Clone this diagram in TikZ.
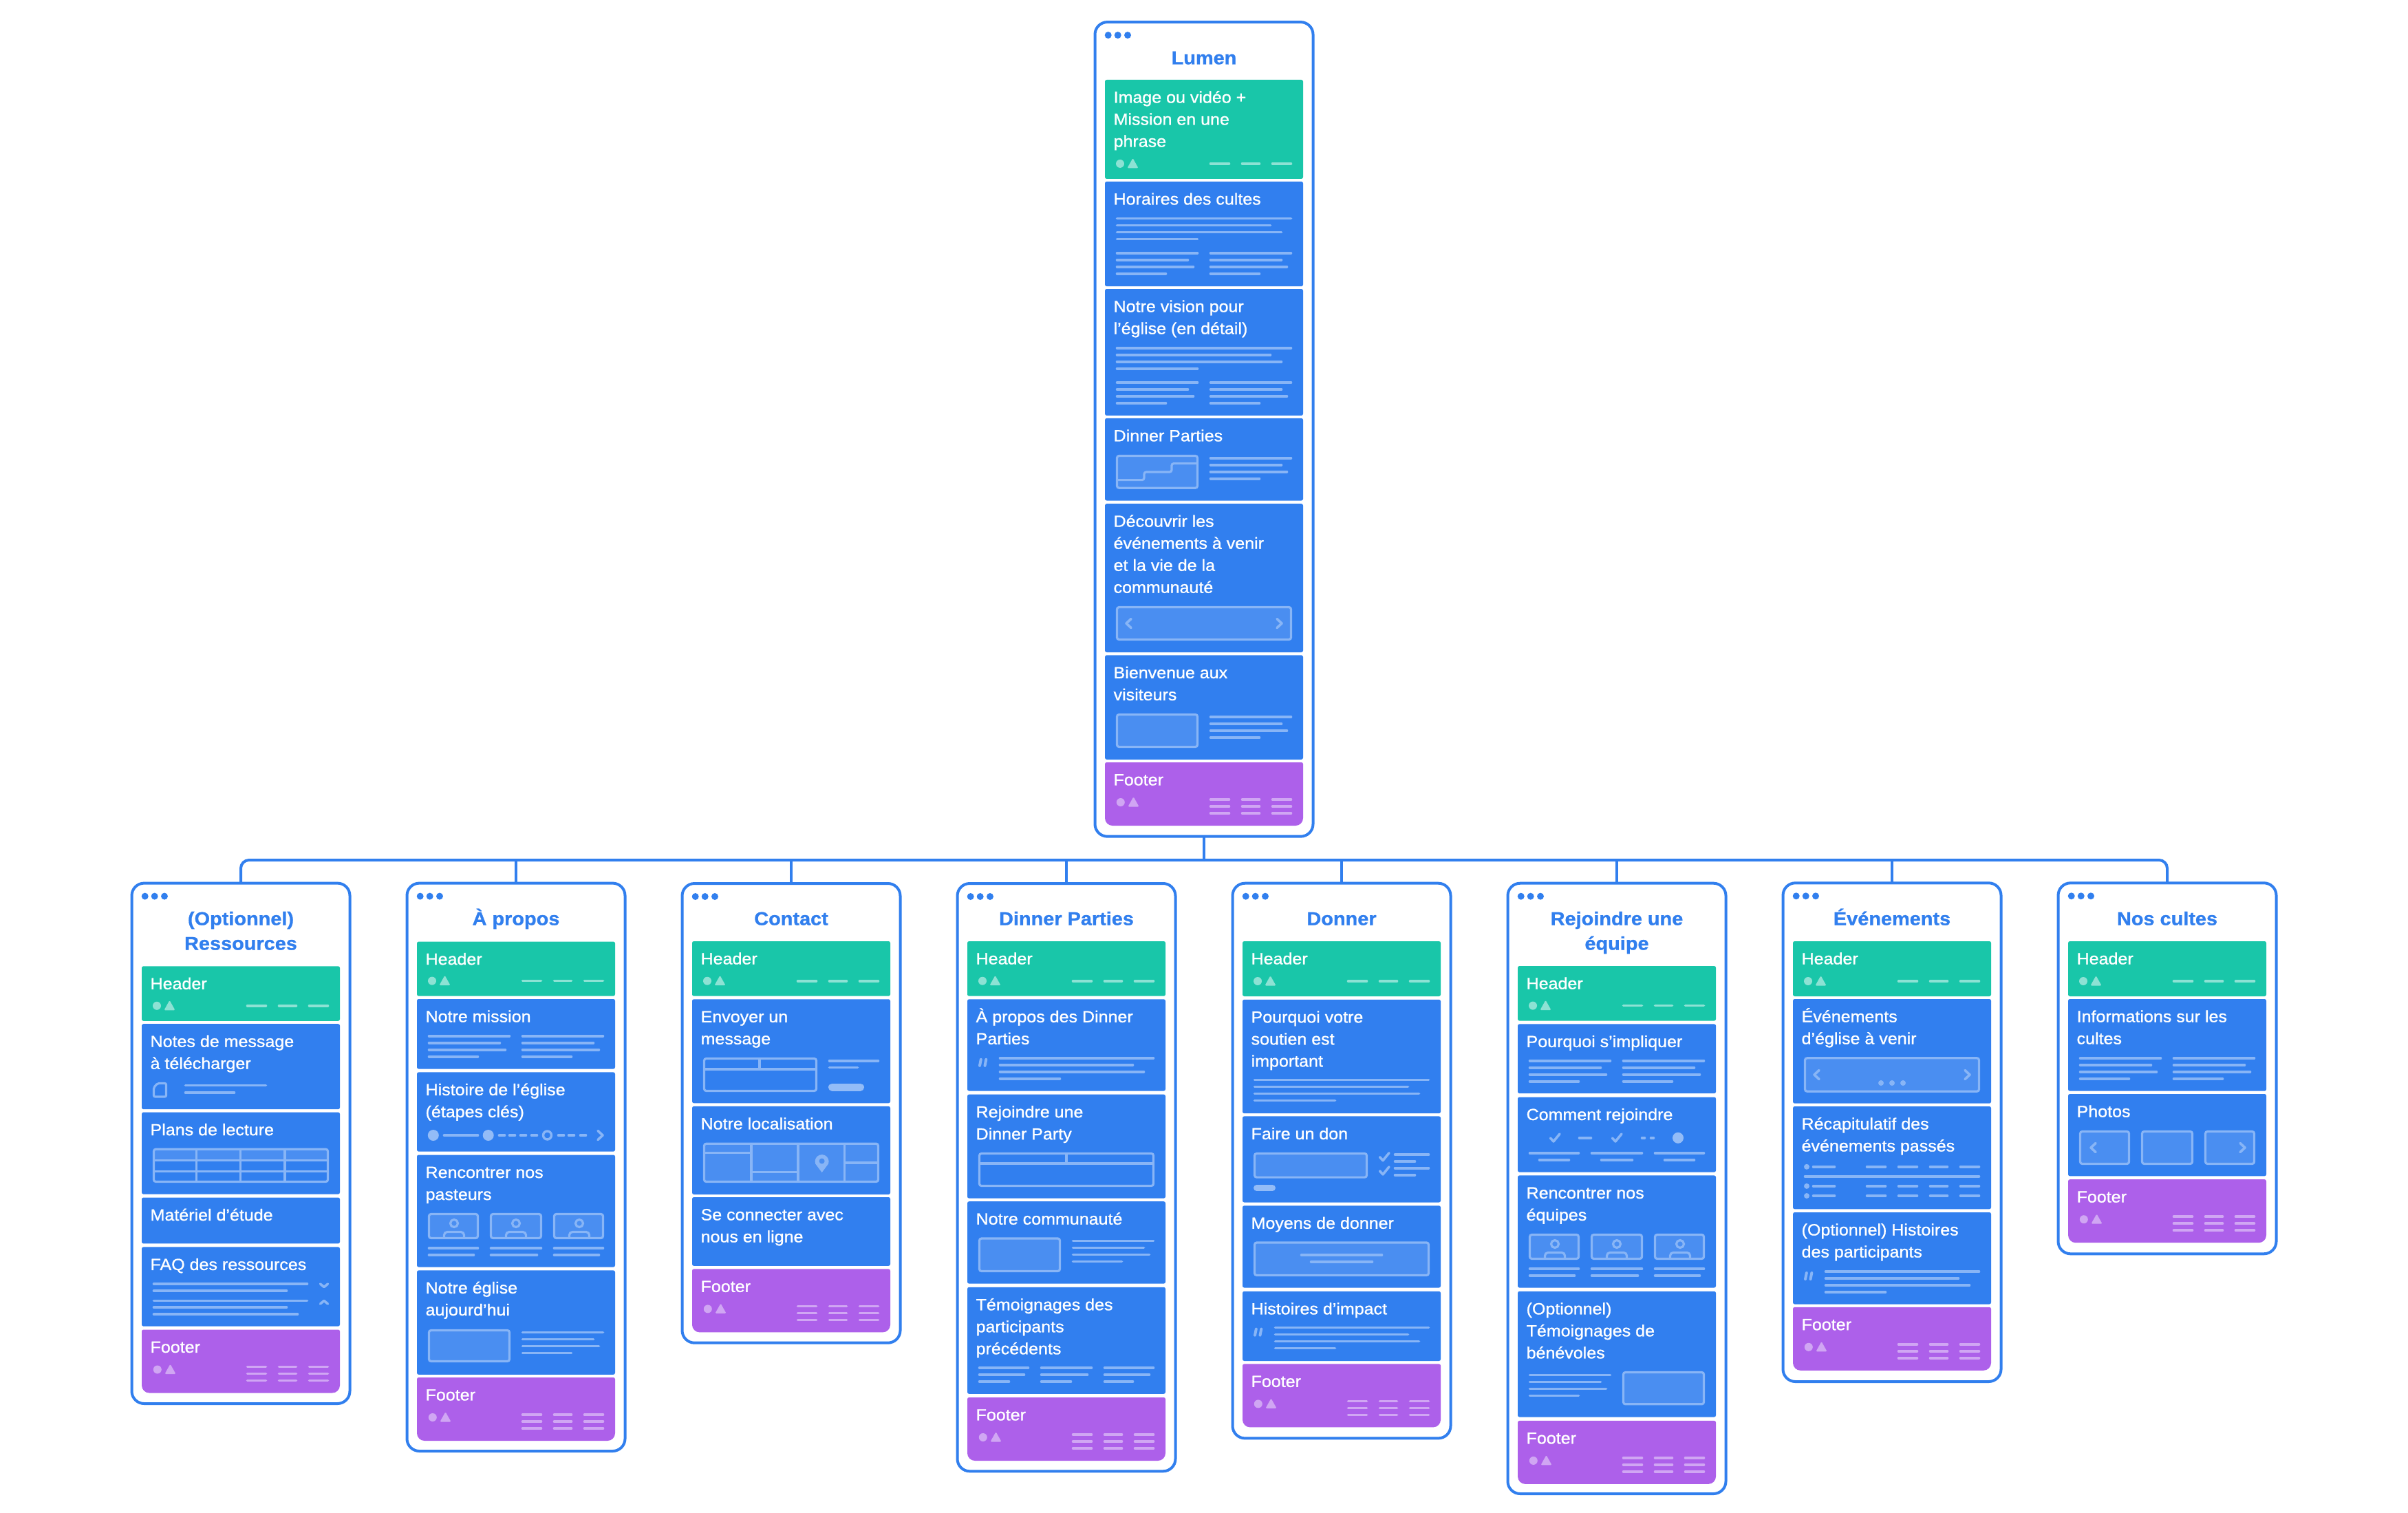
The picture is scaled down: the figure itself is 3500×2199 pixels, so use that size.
\documentclass[tikz,border=0pt]{standalone}
\usepackage{fontspec}
\setmainfont[FakeStretch=1.065,FakeBold=1.0]{Liberation Sans}
\newfontfamily\titlef[FakeStretch=1.07,FakeBold=1.0]{Liberation Sans}
\definecolor{frameB}{HTML}{317FEE}
\definecolor{secB}{HTML}{317FEF}
\definecolor{midB}{HTML}{4A8EF1}
\definecolor{ltB}{HTML}{88B5F6}
\definecolor{btnB}{HTML}{93BCF7}
\definecolor{secG}{HTML}{19C6A9}
\definecolor{ltG}{HTML}{8DE2D4}
\definecolor{secP}{HTML}{AD60EA}
\definecolor{ltP}{HTML}{D0A6F3}
\tikzset{
  secshape/.style={rectangle,anchor=north west,minimum width=288pt,inner sep=0pt,outer sep=0pt,rounded corners=2.5pt},
  seclabel/.style={anchor=north west,inner sep=0pt,outer sep=0pt,align=left,text=white,font={\normalfont\fontsize{23.5pt}{32pt}\selectfont}},
  titlelabel/.style={anchor=north,inner sep=0pt,outer sep=0pt,align=center,text=frameB,font={\titlef\bfseries\fontsize{27pt}{36pt}\selectfont}},
  framebox/.style={rectangle,anchor=north,draw=frameB,line width=4pt,fill=white,minimum width=317pt,inner sep=0pt,outer sep=0pt,rounded corners=18pt},
  conn/.style={draw=frameB,line width=4pt},
  hline/.style={line width=3.6pt,line cap=round},
  boxs/.style={draw=ltB,fill=midB,line width=3.2pt,rounded corners=3pt},
  boxo/.style={draw=ltB,line width=3.2pt,rounded corners=3pt},
  divl/.style={draw=ltB,line width=3.2pt},
  chev/.style={draw=ltB,line width=3.6pt,line cap=round,line join=round}
}
\newcommand\setframe[1]{\pgfmathsetmacro\SL{#1-144}}
\newcommand\hl[4][ltB]{\draw[hline,draw=#1] (\SL+#2+1.5,#4) -- (\SL+#3-1.5,#4);}
\newcommand\pageframe[4]{% name, cx, top, bottom
  \node[framebox,minimum height={(#4-#3)*1pt}] (#1) at (#2,#3) {};
  \setframe{#2}
  \foreach \dx in {4.7,18.7,33} {\fill[frameB] (\SL+\dx,#3+19) circle[radius=5pt];}
}
\newcommand\ftitle[4]{% name, cx, first baseline, text
  \node[titlelabel] (#1) at (#2,#3-28) {\rule{0pt}{28pt}#4};
}
\newcommand\sectbox[5]{% name, fill, top, bottom, text
  \node[secshape,fill=#2,minimum height={(#4-#3)*1pt}] (#1) at (\SL,#3) {};
  \node[seclabel] (#1t) at (\SL+12.6,#3+9.5) {\rule{0pt}{24pt}#5};
}
\newcommand\hdrsec[4]{% name, top, bottom, text
  \sectbox{#1}{secG}{#2}{#3}{#4}
  \fill[ltG] (\SL+22,#3-22) circle[radius=6pt];
  \fill[ltG,rounded corners=1.5pt] (\SL+32.4,#3-15.5) -- (\SL+40.5,#3-30) -- (\SL+48.6,#3-15.5) -- cycle;
  \hl[ltG]{152}{182}{#3-22}\hl[ltG]{198}{226}{#3-22}\hl[ltG]{242}{272}{#3-22}
}
\newcommand\ftrsec[2]{% name, top
  \fill[secP] [rounded corners=2.5pt] (\SL,#2+20) -- (\SL,#2) -- (\SL+288,#2) -- (\SL+288,#2+20) [rounded corners=11pt] -- (\SL+288,#2+92) -- (\SL,#2+92) -- cycle;
  \node[seclabel] (#1) at (\SL+12.6,#2+9.4) {\rule{0pt}{24pt}Footer};
  \fill[ltP] (\SL+22.8,#2+58) circle[radius=6pt];
  \fill[ltP,rounded corners=1.5pt] (\SL+33.4,#2+64.5) -- (\SL+41.5,#2+50) -- (\SL+49.6,#2+64.5) -- cycle;
  \foreach \dy in {54,64,74} {\hl[ltP]{152}{182}{#2+\dy}\hl[ltP]{198}{226}{#2+\dy}\hl[ltP]{242}{272}{#2+\dy}}
}
\newcommand\colblock[2]{% x, y : four lines, 120 wide
  \hl{#1}{#1+120}{#2}\hl{#1}{#1+106}{#2+10}\hl{#1}{#1+114}{#2+20}\hl{#1}{#1+74}{#2+30}
}
\newcommand\fullblock[1]{%
  \hl{16}{272}{#1}\hl{16}{242}{#1+10}\hl{16}{258}{#1+20}\hl{16}{136}{#1+30}
}
\newcommand\quoteblock[1]{%
  \hl{46}{272}{#1}\hl{46}{242}{#1+10}\hl{46}{258}{#1+20}\hl{46}{136}{#1+30}
  \draw[chev,line width=4pt] (\SL+18,#1+11) -- (\SL+19.8,#1+2);
  \draw[chev,line width=4pt] (\SL+25.5,#1+11) -- (\SL+27.3,#1+2);
}
\newcommand\boxf[4]{\draw[boxs] (\SL+#1+1.5,#3+1.5) rectangle (\SL+#2-1.5,#4-1.5);}
\newcommand\boxe[4]{\draw[boxo] (\SL+#1+1.5,#3+1.5) rectangle (\SL+#2-1.5,#4-1.5);}
\newcommand\chevL[3]{\draw[chev] (\SL+#1+7,#2-#3) -- (\SL+#1,#2) -- (\SL+#1+7,#2+#3);}
\newcommand\chevR[3]{\draw[chev] (\SL+#1-7,#2-#3) -- (\SL+#1,#2) -- (\SL+#1-7,#2+#3);}
\newcommand\chk[2]{\draw[chev] (\SL+#1-6.5,#2) -- (\SL+#1-2,#2+5) -- (\SL+#1+7,#2-6);}
\newcommand\person[3]{% cx, card top, card bottom
  \draw[divl] (\SL+#1,#2+15) circle[radius=5.5pt];
  \draw[divl,rounded corners=4.5pt] (\SL+#1-14.5,#3-2) -- (\SL+#1-14.5,#3-10.5) -- (\SL+#1+14.5,#3-10.5) -- (\SL+#1+14.5,#3-2);
}
\newcommand\cards[2]{% top bottom: three person cards
  \boxf{16}{90}{#1}{#2}\boxf{106}{182}{#1}{#2}\boxf{198}{272}{#1}{#2}
  \person{54}{#1}{#2}\person{144}{#1}{#2}\person{236}{#1}{#2}
}
\begin{document}
\begin{tikzpicture}[x=1pt,y=-1pt]
\useasboundingbox (0,0) rectangle (3500,2199);
\fill[white] (0,0) rectangle (3500,2199);
% page frames first, connectors after
\coordinate (bus) at (1750,1250);
% ---------- ROOT ----------
\pageframe{root}{1750}{32.1}{1215.7}
\ftitle{roottitle}{1750}{93.4}{Lumen}
\hdrsec{ra}{116}{259.9}{Image ou vidéo +\\Mission en une\\phrase}
\sectbox{rb}{secB}{263.9}{416.1}{Horaires des cultes}
\fullblock{317.6}\colblock{16}{367.8}\colblock{152}{367.8}
\sectbox{rc}{secB}{420}{603.9}{Notre vision pour\\l’église (en détail)}
\fullblock{505.8}\colblock{16}{556}\colblock{152}{556}
\sectbox{rd}{secB}{607.9}{727.5}{Dinner Parties}
\boxf{16}{136}{661}{710.7}
\draw[divl,rounded corners=3pt] (\SL+17,697.6) -- (\SL+57,697.6) -- (\SL+57,686) -- (\SL+97,686) -- (\SL+97,673.6) -- (\SL+135,673.6);
\colblock{152}{665.7}
\sectbox{re}{secB}{732.2}{948}{Découvrir les\\événements à venir\\et la vie de la\\communauté}
\boxf{16}{272}{881}{931}\chevL{31}{906}{6.5}\chevR{257}{906}{6.5}
\sectbox{rf}{secB}{952.3}{1103.8}{Bienvenue aux\\visiteurs}
\boxf{16}{136}{1037}{1087}\colblock{152}{1042}
\ftrsec{rg}{1108}
% ---------- RESSOURCES ----------
\pageframe{pa}{350}{1283.6}{2040}
\ftitle{patitle}{350}{1344.5}{(Optionnel)\\Ressources}
\hdrsec{aa}{1404.3}{1483.8}{Header}
\sectbox{ab}{secB}{1488.2}{1612.2}{Notes de message\\à télécharger}
\draw[divl,rounded corners=2pt] (\SL+23,1574.5) -- (\SL+35.5,1574.5) -- (\SL+35.5,1594) -- (\SL+17.5,1594) -- (\SL+17.5,1580.5) -- cycle;
\hl{62}{182}{1577.6}\hl{62}{136}{1588}
\sectbox{ac}{secB}{1616.6}{1735.6}{Plans de lecture}
\fill[midB] (\SL+18,1670) rectangle (\SL+270,1686);
\boxe{16}{272}{1668.7}{1719}
\foreach \vx in {79.5,143.5,208} {\draw[divl] (\SL+\vx,1669) -- (\SL+\vx,1718);}
\draw[divl] (\SL+17,1686.2) -- (\SL+271,1686.2);
\draw[divl] (\SL+17,1702.7) -- (\SL+271,1702.7);
\sectbox{ad}{secB}{1740.5}{1807.4}{Matériel d’étude}
\sectbox{ae}{secB}{1812.4}{1927.6}{FAQ des ressources}
\hl{16}{242}{1866}\hl{16}{212}{1876}\hl{16}{242}{1890.3}\hl{16}{212}{1900}\hl{16}{228}{1910}
\draw[chev] (\SL+259.5,1866) -- (\SL+265,1870.5) -- (\SL+270.5,1866);
\draw[chev] (\SL+259.5,1895) -- (\SL+265,1890.5) -- (\SL+270.5,1895);
\ftrsec{af}{1932.5}
% ---------- A PROPOS ----------
\pageframe{pb}{750}{1283.6}{2109}
\ftitle{pbtitle}{750}{1344.5}{À propos}
\hdrsec{ba}{1368.6}{1447.6}{Header}
\sectbox{bb}{secB}{1452}{1553.5}{Notre mission}
\colblock{16}{1505.7}\colblock{152}{1505.7}
\sectbox{bc}{secB}{1558.4}{1673.6}{Histoire de l’église\\(étapes clés)}
\fill[btnB] (\SL+23.8,1650) circle[radius=8pt];
\fill[btnB] (\SL+103.7,1650) circle[radius=8pt];
\hl{38}{90}{1650}
\hl{118}{129}{1650}\hl{133}{144}{1650}\hl{149}{160}{1650}\hl{165}{176}{1650}
\draw[divl,line width=3.4pt] (\SL+189.5,1650) circle[radius=6pt];
\hl{204}{215}{1650}\hl{219}{230}{1650}\hl{236}{247}{1650}
\chevR{270}{1650}{6.5}
\sectbox{bd}{secB}{1678.5}{1841.5}{Rencontrer nos\\pasteurs}
\cards{1763}{1801}
\hl{16}{90}{1814}\hl{16}{84}{1824}\hl{106}{182}{1814}\hl{106}{176}{1824}\hl{198}{272}{1814}\hl{198}{266}{1824}
\sectbox{be}{secB}{1846.4}{1997.8}{Notre église\\aujourd’hui}
\boxf{16}{136}{1932}{1980}\colblock{152}{1936.4}
\ftrsec{bf}{2002}
% ---------- CONTACT ----------
\pageframe{pc}{1150}{1284}{1951.7}
\ftitle{pctitle}{1150}{1344.5}{Contact}
\hdrsec{ca}{1368}{1447.7}{Header}
\sectbox{cb}{secB}{1452.3}{1603.3}{Envoyer un\\message}
\boxe{16}{182}{1537}{1587}
\draw[divl] (\SL+17,1554) -- (\SL+181,1554);
\draw[divl] (\SL+98,1538) -- (\SL+98,1554);
\hl{198}{272}{1541.9}\hl{198}{242}{1551.6}
\draw[line width=11pt,line cap=round,draw=btnB] (\SL+203.5,1580) -- (\SL+244.5,1580);
\sectbox{cc}{secB}{1607.9}{1736}{Notre localisation}
\boxf{16}{272}{1660.7}{1719}
\foreach \vx in {86,154,221.5} {\draw[divl] (\SL+\vx,1661) -- (\SL+\vx,1718);}
\draw[divl] (\SL+17,1675.6) -- (\SL+86,1675.6);
\draw[divl] (\SL+86,1703.2) -- (\SL+154,1703.2);
\draw[divl] (\SL+221.5,1690) -- (\SL+271,1690);
\fill[ltB] (\SL+188.6,1704) -- (\SL+179.2,1691.5) arc[start angle=200,end angle=-20,radius=10pt] -- cycle;
\fill[midB] (\SL+188.6,1687.5) circle[radius=4pt];
\sectbox{cd}{secB}{1740}{1839.8}{Se connecter avec\\nous en ligne}
\ftrsec{ce}{1844.4}
% ---------- DINNER PARTIES ----------
\pageframe{pd}{1550}{1284}{2138.3}
\ftitle{pdtitle}{1550}{1344.5}{Dinner Parties}
\hdrsec{da}{1368}{1447.7}{Header}
\sectbox{db}{secB}{1452.3}{1585.5}{À propos des Dinner\\Parties}
\quoteblock{1537.8}
\sectbox{dc}{secB}{1590.7}{1741.6}{Rejoindre une\\Dinner Party}
\boxe{16}{272}{1675}{1725}
\draw[divl] (\SL+17,1691) -- (\SL+271,1691);
\draw[divl] (\SL+144,1676) -- (\SL+144,1691);
\sectbox{dd}{secB}{1746.2}{1865.6}{Notre communauté}
\boxf{16}{136}{1798.5}{1849}\colblock{152}{1803.6}
\sectbox{de}{secB}{1870.8}{2025.8}{Témoignages des\\participants\\précédents}
\hl{16}{90}{1988}\hl{16}{84}{1998}\hl{16}{62}{2008}
\hl{106}{182}{1988}\hl{106}{176}{1998}\hl{106}{152}{2008}
\hl{198}{272}{1988}\hl{198}{266}{1998}\hl{198}{242}{2008}
\ftrsec{df}{2031}
% ---------- DONNER ----------
\pageframe{pe}{1950}{1283.7}{2090.4}
\ftitle{petitle}{1950}{1344.5}{Donner}
\hdrsec{ea}{1368}{1448}{Header}
\sectbox{eb}{secB}{1452.8}{1618.2}{Pourquoi votre\\soutien est\\important}
\fullblock{1569.6}
\sectbox{ec}{secB}{1622.4}{1747.5}{Faire un don}
\boxf{16}{182}{1675}{1712.6}
\draw[line width=9pt,line cap=round,draw=btnB] (\SL+20.5,1726.8) -- (\SL+43.5,1726.8);
\chk{206}{1681.7}\chk{206}{1701.9}
\hl{220}{272}{1678}\hl{220}{252}{1688}\hl{220}{272}{1697.7}\hl{220}{252}{1707.8}
\sectbox{ed}{secB}{1752.3}{1871.5}{Moyens de donner}
\boxf{16}{272}{1804.5}{1855}
\hl{84}{204}{1824}\hl{98}{190}{1834}
\sectbox{ee}{secB}{1876.8}{1978}{Histoires d’impact}
\quoteblock{1929.6}
\ftrsec{ef}{1982.4}
% ---------- REJOINDRE ----------
\pageframe{pf}{2350}{1283.7}{2171}
\ftitle{pftitle}{2350}{1344.5}{Rejoindre une\\équipe}
\hdrsec{fa}{1404}{1483.6}{Header}
\sectbox{fb}{secB}{1488.4}{1589.2}{Pourquoi s’impliquer}
\colblock{16}{1541.7}\colblock{152}{1541.7}
\sectbox{fc}{secB}{1594.5}{1703.6}{Comment rejoindre}
\chk{54}{1654}\hl{88}{108}{1653.8}\chk{144}{1654}\hl{179}{186}{1653.8}\hl{192}{199}{1653.8}
\fill[btnB] (\SL+233,1653.8) circle[radius=8pt];
\hl{16}{90}{1675.8}\hl{30}{76}{1685.9}\hl{106}{182}{1675.8}\hl{120}{168}{1685.9}\hl{198}{272}{1675.8}\hl{212}{258}{1685.9}
\sectbox{fd}{secB}{1708.4}{1871.5}{Rencontrer nos\\équipes}
\cards{1793}{1831}
\hl{16}{90}{1844}\hl{16}{84}{1854}\hl{106}{182}{1844}\hl{106}{176}{1854}\hl{198}{272}{1844}\hl{198}{266}{1854}
\sectbox{fe}{secB}{1876.8}{2059.5}{(Optionnel)\\Témoignages de\\bénévoles}
\colblock{16}{1998.4}\boxf{152}{272}{1993}{2042.3}
\ftrsec{ff}{2064.9}
% ---------- EVENEMENTS ----------
\pageframe{pg}{2750}{1283.3}{2008}
\ftitle{pgtitle}{2750}{1344.5}{Événements}
\hdrsec{ga}{1368}{1448}{Header}
\sectbox{gb}{secB}{1452}{1603.7}{Événements\\d’église à venir}
\boxf{16}{272}{1536.3}{1587.7}\chevL{31}{1562}{6.5}\chevR{257}{1562}{6.5}
\foreach \vx in {128,144,160} {\fill[ltB] (\SL+\vx,1574) circle[radius=4pt];}
\sectbox{gc}{secB}{1608}{1757.3}{Récapitulatif des\\événements passés}
\foreach \ry in {1695.8,1723.9,1738} {
  \fill[ltB] (\SL+20,\ry) circle[radius=4pt];
  \hl{28}{62}{\ry}\hl{106}{136}{\ry}\hl{152}{182}{\ry}\hl{198}{226}{\ry}\hl{242}{272}{\ry}
}
\hl{16}{272}{1709.8}
\sectbox{gd}{secB}{1762}{1895.5}{(Optionnel) Histoires\\des participants}
\quoteblock{1848}
\ftrsec{gf}{1899.8}
% ---------- NOS CULTES ----------
\pageframe{ph}{3150}{1283.3}{1822.3}
\ftitle{phtitle}{3150}{1344.5}{Nos cultes}
\hdrsec{ha}{1368}{1448}{Header}
\sectbox{hb}{secB}{1452}{1585.7}{Informations sur les\\cultes}
\colblock{16}{1538}\colblock{152}{1538}
\sectbox{hc}{secB}{1590}{1709.3}{Photos}
\boxf{16}{90}{1643}{1693}\boxf{106}{182}{1643}{1693}\boxf{198}{272}{1643}{1693}
\chevL{33}{1668}{6.5}\chevR{257}{1668}{6.5}
\ftrsec{hf}{1714.2}
% ---------- CONNECTORS ----------
\draw[conn] (root.south) -- (bus);
\draw[conn,rounded corners=12pt] (bus) -| (pa.north);
\draw[conn,rounded corners=12pt] (bus) -| (ph.north);
\draw[conn] (bus) -| (pb.north);
\draw[conn] (bus) -| (pc.north);
\draw[conn] (bus) -| (pd.north);
\draw[conn] (bus) -| (pe.north);
\draw[conn] (bus) -| (pf.north);
\draw[conn] (bus) -| (pg.north);
\end{tikzpicture}
\end{document}
